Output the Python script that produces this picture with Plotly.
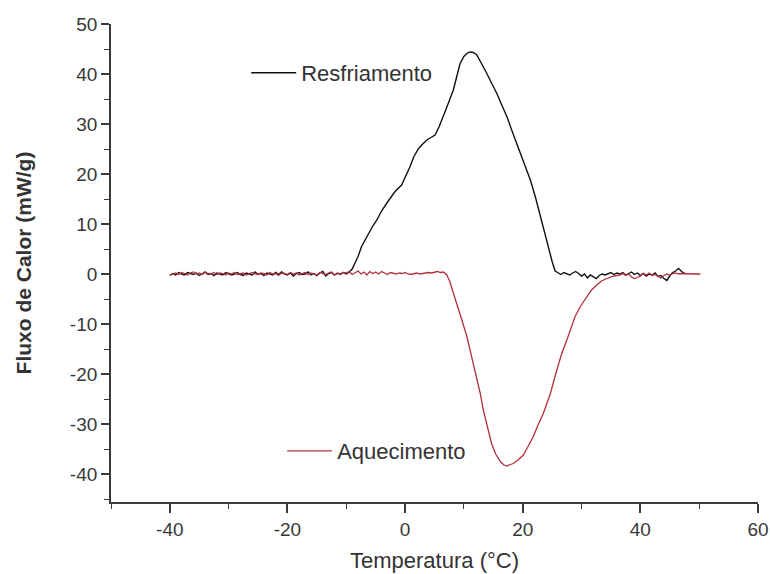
import plotly.graph_objects as go

# DSC thermogram: heat flow vs temperature for cooling and heating runs

# Cooling run (Resfriamento)
temp_resfriamento = [
    -40.0, -39.5, -39.0, -38.5, -38.0, -37.5, -37.0, -36.5, -36.0, -35.5,
    -35.0, -34.5, -34.0, -33.5, -33.0, -32.5, -32.0, -31.5, -31.0, -30.5,
    -30.0, -29.5, -29.0, -28.5, -28.0, -27.5, -27.0, -26.5, -26.0, -25.5,
    -25.0, -24.5, -24.0, -23.5, -23.0, -22.5, -22.0, -21.5, -21.0, -20.5,
    -20.0, -19.5, -19.0, -18.5, -18.0, -17.5, -17.0, -16.5, -16.0, -15.5,
    -15.0, -14.5, -14.0, -13.5, -13.0, -12.5, -12.0, -11.5, -11.0, -10.5,
    -10.0, -9.5,
    -9.0, -8.0, -7.4, -6.5, -5.5, -4.8, -4.0, -3.1, -2.4, -1.7,
    -0.6, 0.0, 0.85, 1.5, 2.3, 3.0, 3.7, 4.4, 5.1, 5.8,
    6.5, 7.3, 8.2, 8.8, 9.35, 10.0, 10.5, 11.0, 11.6, 12.2,
    13.0, 13.9, 14.7, 15.6, 16.4, 17.3, 18.4, 19.6, 20.5, 21.3,
    22.2, 23.0, 23.7, 24.4, 25.0, 25.5, 26.0,
    26.5, 27.0, 27.5, 28.0, 28.5, 29.0, 29.5, 30.0, 30.5, 31.0,
    31.5, 32.0, 32.5, 33.0, 33.5, 34.0, 34.5, 35.0, 35.5, 36.0,
    36.5, 37.0, 37.5, 38.0, 38.5, 39.0, 39.5, 40.0, 40.5, 41.0,
    41.5, 42.0, 42.5, 43.0, 43.5, 44.0, 44.5, 45.0, 45.5, 46.0,
    46.5, 47.0, 47.6,
]
fluxo_resfriamento = [
    -0.3, 0.1, -0.2, 0.3, 0.0, -0.2, 0.3, 0.1, -0.1, 0.2,
    -0.3, 0.0, 0.4, -0.1, 0.1, -0.3, 0.2, 0.0, -0.2, 0.3,
    0.1, -0.2, 0.0, 0.3, -0.1, -0.3, 0.2, 0.0, -0.2, 0.4,
    -0.1, 0.1, -0.3, 0.2, 0.0, -0.2, 0.3, -0.1, 0.4, 0.0,
    -0.2, 0.2, -0.4, 0.1, 0.3, -0.1, 0.0, 0.4, -0.2, 0.1,
    -0.3, 0.2, 0.5, -0.4, 0.1, 0.3, -0.2, 0.2, -0.1, 0.3,
    0.0, 0.4,
    1.0, 3.5, 5.5, 7.5, 9.6, 10.8, 12.6, 14.2, 15.4, 16.5,
    17.8, 19.3, 21.5, 23.5, 25.1, 26.0, 26.8, 27.3, 27.8, 29.5,
    31.5, 34.0, 36.8, 39.5, 42.1, 43.5, 44.1, 44.4, 44.3, 43.8,
    42.2, 40.1, 38.2, 36.1, 33.9, 31.5, 27.9, 24.1, 21.4, 18.8,
    15.2, 11.5, 8.4, 5.5, 2.5, 0.6, 0.2,
    -0.1, 0.3, 0.0, -0.2, 0.2, 0.5, 0.1, -0.4, 0.0, -0.8,
    -0.2, -0.6, -0.9, -0.3, 0.0, -0.2, 0.1, 0.3, -0.1, 0.2,
    0.0, 0.3, -0.2, 0.1, 0.4, -0.1, 0.2, -0.3, 0.1, -0.4,
    0.0, -0.2, 0.2, -0.5, -0.3, -0.9, -1.3, -0.4, 0.3, 0.6,
    1.1, 0.5, 0.1,
]

# Heating run (Aquecimento)
temp_aquecimento = [
    -40.0, -39.5, -39.0, -38.5, -38.0, -37.5, -37.0, -36.5, -36.0, -35.5,
    -35.0, -34.5, -34.0, -33.5, -33.0, -32.5, -32.0, -31.5, -31.0, -30.5,
    -30.0, -29.5, -29.0, -28.5, -28.0, -27.5, -27.0, -26.5, -26.0, -25.5,
    -25.0, -24.5, -24.0, -23.5, -23.0, -22.5, -22.0, -21.5, -21.0, -20.5,
    -20.0, -19.5, -19.0, -18.5, -18.0, -17.5, -17.0, -16.5, -16.0, -15.5,
    -15.0, -14.5, -14.0, -13.5, -13.0, -12.5, -12.0, -11.5, -11.0, -10.5,
    -10.0, -9.5, -9.0, -8.5, -8.0, -7.5, -7.0, -6.5, -6.0, -5.5,
    -5.0, -4.5, -4.0, -3.5, -3.0, -2.5, -2.0, -1.5, -1.0, -0.5,
    0.0, 0.5, 1.0, 1.5, 2.0, 2.5, 3.0, 3.5, 4.0, 4.5,
    5.0, 5.5, 6.0, 6.5, 7.1,
    7.6, 8.2, 8.8, 9.6, 10.5, 11.3, 12.2, 12.8, 13.3, 14.0,
    14.7, 15.4, 16.2, 16.8, 17.3, 17.9, 18.4, 19.2, 20.1, 20.9,
    21.8, 22.6, 23.5, 24.1, 24.7, 25.8, 26.6, 27.5, 28.2, 28.9,
    29.9, 30.9, 31.7, 32.6, 33.4, 34.3, 35.5, 36.6,
    37.0, 37.5, 38.0, 38.5, 39.0, 39.5, 40.0, 40.5, 41.0, 41.5,
    42.0, 42.5, 43.0, 43.5, 44.0, 44.5, 45.0, 45.5, 46.0, 46.5,
    47.0, 48.0, 49.0, 50.2,
]
fluxo_aquecimento = [
    -0.2, 0.0, 0.2, -0.1, 0.3, 0.1, -0.2, 0.2, 0.4, 0.0,
    0.2, -0.1, 0.3, 0.1, 0.0, 0.3, -0.1, 0.2, 0.1, -0.2,
    0.2, 0.0, 0.3, -0.1, 0.1, 0.2, -0.2, 0.1, 0.3, 0.0,
    -0.1, 0.2, 0.1, -0.2, 0.3, 0.0, 0.1, -0.3, 0.2, 0.1,
    -0.1, 0.3, 0.0, 0.2, -0.2, 0.1, 0.3, -0.1, 0.2, 0.0,
    -0.2, 0.3, 0.1, -0.1, 0.2, 0.4, -0.2, 0.1, 0.0, 0.3,
    0.2, 0.5, -0.1, 0.3, 0.6, 0.0, 0.4, -0.2, 0.5, 0.1,
    0.4, 0.0, 0.5, 0.2, -0.1, 0.3, 0.1, 0.0, 0.2, 0.1,
    0.3, 0.0, -0.1, 0.1, 0.2, 0.0, 0.1, 0.2, 0.3, 0.2,
    0.4, 0.5, 0.3, 0.4, -0.2,
    -1.5, -3.8, -5.9, -9.0, -12.5, -16.4, -20.5, -24.0, -27.2, -30.8,
    -33.9, -36.0, -37.5, -38.2, -38.4, -38.1, -37.9, -37.2, -36.2, -34.5,
    -32.5, -30.2, -27.9, -25.9, -23.9, -19.2, -16.0, -13.2, -10.7, -8.5,
    -6.3, -4.5, -3.2, -2.2, -1.4, -0.9, -0.4, -0.2,
    0.1, -0.3, 0.0, -0.6, -0.9, -0.7, -0.4, 0.1, -0.2, 0.2,
    -0.3, -0.1, -0.4, -0.8, -0.3, 0.0, -0.2, 0.1, 0.2, 0.0,
    0.1, 0.0, 0.0, 0.0,
]

x_ticks = [-40, -20, 0, 20, 40, 60]
y_ticks = [-40, -30, -20, -10, 0, 10, 20, 30, 40, 50]

FONT = "Liberation Sans, Arial, sans-serif"
AXIS_COLOR = "#3a3a3a"

fig = go.Figure()
fig.add_trace(go.Scatter(
    x=temp_resfriamento, y=fluxo_resfriamento, mode="lines",
    name="Resfriamento", line=dict(color="#111111", width=1.4),
    legend="legend", showlegend=True,
))
fig.add_trace(go.Scatter(
    x=temp_aquecimento, y=fluxo_aquecimento, mode="lines",
    name="Aquecimento", line=dict(color="#b3303a", width=1.3),
    legend="legend2", showlegend=True,
))

legend_common = dict(
    bgcolor="rgba(0,0,0,0)", borderwidth=0,
    font=dict(family=FONT, size=22, color="#333333"),
    xanchor="left", yanchor="middle", itemwidth=45,
)

fig.update_layout(
    width=770, height=574,
    margin=dict(l=111, r=12, t=24, b=72),
    paper_bgcolor="white", plot_bgcolor="white",
    font=dict(family=FONT, color="#333333"),
    showlegend=True,
    legend=dict(x=0.209, y=0.8975, **legend_common),
    legend2=dict(x=0.2645, y=0.1067, **legend_common),
    xaxis=dict(
        range=[-50, 60], tickvals=x_ticks, ticktext=[str(v) for v in x_ticks],
        showgrid=False, zeroline=False, automargin=False,
        showline=True, linecolor=AXIS_COLOR, linewidth=1.8,
        ticks="outside", ticklen=9, tickwidth=1.6, tickcolor=AXIS_COLOR,
        tickfont=dict(family=FONT, size=19, color="#383838"),
        minor=dict(dtick=10, tick0=0, ticks="outside", ticklen=5,
                   tickwidth=1.4, tickcolor=AXIS_COLOR, showgrid=False),
        title=dict(text="Temperatura (°C)", standoff=14,
                   font=dict(family=FONT, size=22, color="#333333")),
    ),
    yaxis=dict(
        range=[-45.6, 50], tickvals=y_ticks, ticktext=[str(v) for v in y_ticks],
        showgrid=False, zeroline=False, automargin=False,
        showline=True, linecolor=AXIS_COLOR, linewidth=1.8,
        ticks="outside", ticklen=8, tickwidth=1.6, tickcolor=AXIS_COLOR,
        tickfont=dict(family=FONT, size=19, color="#383838"),
        minor=dict(dtick=5, tick0=0, ticks="outside", ticklen=5,
                   tickwidth=1.4, tickcolor=AXIS_COLOR, showgrid=False),
        title=dict(text="<b>Fluxo de Calor (mW/g)</b>", standoff=32,
                   font=dict(family=FONT, size=21, color="#333333")),
    ),
)

fig.write_html("out.html")
